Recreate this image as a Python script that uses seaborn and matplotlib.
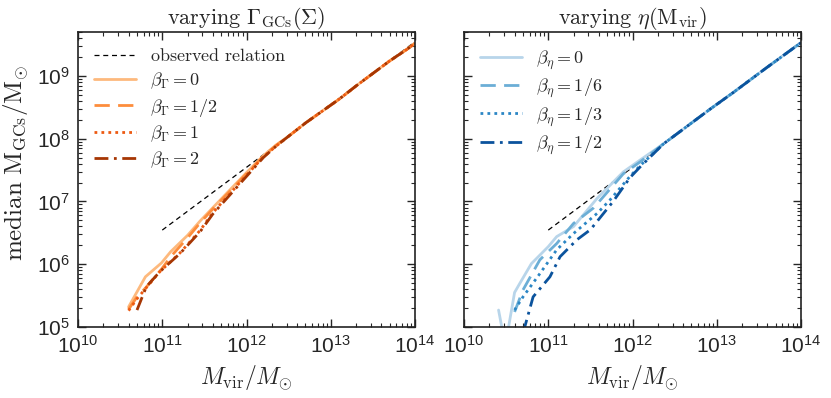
import numpy as np
import pandas as pd
import matplotlib
matplotlib.use('Agg')
import matplotlib.pyplot as plt
import seaborn as sns

# observed relation (two end points)
obs_mvir = [1e11, 1e14]
obs_mgc = [3.5e6, 3.5e9]

# left panel: varying Gamma_GCs(Sigma), log10 values
hi_x = [12.50, 12.70, 12.90, 13.10, 13.30, 13.50, 13.70, 13.90, 14.00]
hi_y = [8.04, 8.25, 8.44, 8.63, 8.84, 9.04, 9.24, 9.42, 9.52]

gam_x = {
    '0':   [10.60, 10.80, 10.99, 11.10, 11.20, 11.30, 11.45, 11.60, 11.80, 12.00, 12.20, 12.35] + hi_x,
    '1/2': [10.60, 10.70, 10.80, 10.99, 11.10, 11.20, 11.30, 11.45, 11.60, 11.80, 12.00, 12.20, 12.35] + hi_x,
    '1':   [10.60, 10.70, 10.97, 11.21, 11.45, 11.60, 11.80, 12.00, 12.20, 12.35] + hi_x,
    '2':   [10.70, 10.81, 10.97, 11.21, 11.45, 11.60, 11.80, 12.00, 12.20, 12.35] + hi_x,
}
gam_y = {
    '0':   [5.32, 5.80, 6.02, 6.20, 6.33, 6.46, 6.69, 6.90, 7.18, 7.46, 7.73, 7.90] + hi_y,
    '1/2': [5.28, 5.48, 5.62, 5.92, 6.12, 6.27, 6.42, 6.66, 6.88, 7.16, 7.44, 7.72, 7.89] + hi_y,
    '1':   [5.26, 5.45, 5.88, 6.18, 6.54, 6.82, 7.12, 7.42, 7.71, 7.88] + hi_y,
    '2':   [5.27, 5.64, 5.88, 6.17, 6.52, 6.80, 7.10, 7.40, 7.70, 7.88] + hi_y,
}

# right panel: varying eta(M_vir)
hi2_x = [12.37, 12.64, 12.92, 13.20, 13.59, 14.00]
hi2_y = [7.92, 8.19, 8.47, 8.74, 9.13, 9.53]

eta_x = {
    '0':   [10.41, 10.49, 10.60, 10.66, 10.80, 11.00, 11.10, 11.30, 11.58, 11.89, 12.09] + hi2_x,
    '1/6': [10.60, 10.70, 10.90, 11.10, 11.30, 11.54, 11.89, 12.09] + hi2_x,
    '1/3': [10.60, 10.70, 10.90, 11.10, 11.30, 11.58, 11.73, 11.97, 12.09] + hi2_x,
    '1/2': [10.70, 10.82, 11.02, 11.14, 11.34, 11.50, 11.77, 11.97, 12.09] + hi2_x,
}
eta_y = {
    '0':   [5.27, 4.70, 5.55, 5.69, 6.01, 6.28, 6.44, 6.60, 7.05, 7.47, 7.66] + hi2_y,
    '1/6': [5.24, 5.59, 6.07, 6.33, 6.65, 6.90, 7.44, 7.63] + hi2_y,
    '1/3': [5.27, 5.48, 5.85, 6.23, 6.49, 6.81, 7.02, 7.40, 7.57] + hi2_y,
    '1/2': [4.90, 5.48, 5.80, 6.12, 6.39, 6.55, 7.00, 7.38, 7.55] + hi2_y,
}

styles = ['-', (0, (5.5, 3)), (0, (1, 1.5)), (0, (5, 2, 1, 2))]
gam_colors = ['#fdb97d', '#fd8d3c', '#ec5a12', '#a63603']
eta_colors = ['#b8d5ea', '#6baed6', '#2b86c5', '#0b539d']

sns.set_style('ticks')
plt.rcParams['font.family'] = ['Liberation Sans', 'DejaVu Sans']
plt.rcParams['mathtext.fontset'] = 'cm'
plt.rcParams['xtick.direction'] = 'in'
plt.rcParams['ytick.direction'] = 'in'
plt.rcParams['xtick.top'] = True
plt.rcParams['ytick.right'] = True

fig = plt.figure(figsize=(8.31, 3.98), dpi=100)
ax1 = fig.add_axes([0.0939, 0.1784, 0.4055, 0.7412])
ax2 = fig.add_axes([0.5584, 0.1784, 0.4055, 0.7412])


def draw_panel(ax, xs, ys, colors, sym):
    sns.lineplot(x=obs_mvir, y=obs_mgc, ax=ax, color='k', lw=0.9,
                 linestyle=(0, (4, 3)), label=r'$\mathrm{observed\ relation}$' if sym == r'\Gamma' else None)
    for (key, c, ls) in zip(xs.keys(), colors, styles):
        df = pd.DataFrame({'x': 10 ** np.array(xs[key]), 'y': 10 ** np.array(ys[key])})
        sns.lineplot(data=df, x='x', y='y', ax=ax, color=c, lw=2.0, linestyle=ls,
                     sort=False, label=r'$\beta_{%s}=%s$' % (sym, key))
    ax.set_xscale('log')
    ax.set_yscale('log')
    ax.set_xlim(1e10, 1e14)
    ax.set_ylim(1e5, 10 ** 9.7)
    ax.set_xticks([1e10, 1e11, 1e12, 1e13, 1e14])
    ax.set_yticks([1e5, 1e6, 1e7, 1e8, 1e9])
    ax.tick_params(which='major', length=6, width=1.0, labelsize=15, pad=6)
    ax.tick_params(which='minor', length=3, width=0.8)
    for s in ax.spines.values():
        s.set_linewidth(1.2)
        s.set_color('#222222')
    ax.set_xlabel(r'$M_{\rm vir}/M_{\odot}$', fontsize=17)
    ax.legend(loc='upper left', frameon=False, fontsize=13, handlelength=2.3,
              labelspacing=0.3, borderaxespad=0.5)


draw_panel(ax1, gam_x, gam_y, gam_colors, r'\Gamma')
ax1.set_title(r'$\mathrm{varying}\ \Gamma_{\rm GCs}(\Sigma)$', fontsize=16, pad=4)
ax1.set_ylabel(r'$\mathrm{median\ M_{GCs}/M_{\odot}}$', fontsize=18)
ax1.yaxis.set_label_coords(-0.14, 0.556)

draw_panel(ax2, eta_x, eta_y, eta_colors, r'\eta')
ax2.set_title(r'$\mathrm{varying}\ \eta(\mathrm{M_{vir}})$', fontsize=16, pad=4)
ax2.set_ylabel('')
ax2.tick_params(axis='y', which='both', labelleft=False)

fig.savefig('out.png', dpi=100)
